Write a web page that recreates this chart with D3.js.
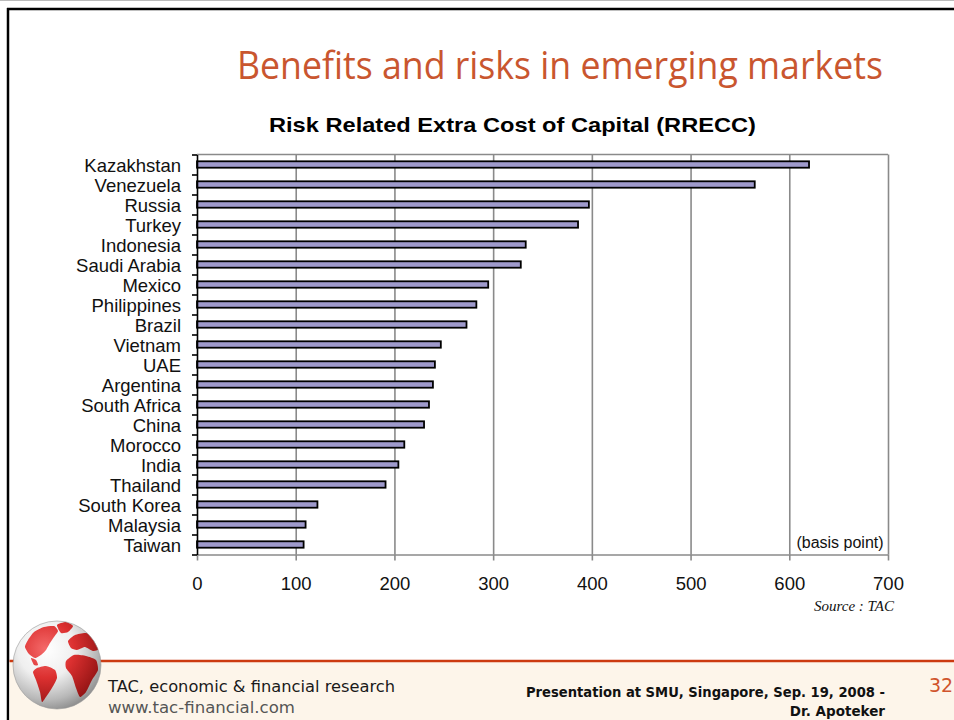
<!DOCTYPE html>
<html>
<head>
<meta charset="utf-8">
<script src="https://cdn.jsdelivr.net/npm/d3@7/dist/d3.min.js"></script>
<style>
  html, body { margin: 0; padding: 0; background: #fff; }
  svg { display: block; }
</style>
</head>
<body>
<svg id="slide" width="954" height="720"></svg>
<script>
// Risk Related Extra Cost of Capital, basis points, by country
const countries = ["Kazakhstan", "Venezuela", "Russia", "Turkey", "Indonesia", "Saudi Arabia",
  "Mexico", "Philippines", "Brazil", "Vietnam", "UAE", "Argentina", "South Africa", "China",
  "Morocco", "India", "Thailand", "South Korea", "Malaysia", "Taiwan"];
const rrecc = [620, 565, 397, 386, 333, 328, 295, 283, 273, 247, 241, 239, 235, 230,
  210, 204, 191, 122, 110, 108];
const xTicks = [0, 100, 200, 300, 400, 500, 600, 700];

const svg = d3.select("#slide");

// ---- slide frame ----
svg.append("rect").attr("x", 0).attr("y", 0).attr("width", 954).attr("height", 720).attr("fill", "#fff");
svg.append("line").attr("x1", 0).attr("x2", 954).attr("y1", 0.5).attr("y2", 0.5)
  .attr("stroke", "#bbb").attr("stroke-width", 1);
svg.append("line").attr("x1", 7).attr("x2", 954).attr("y1", 9).attr("y2", 9)
  .attr("stroke", "#000").attr("stroke-width", 2.5);
svg.append("line").attr("x1", 8).attr("x2", 8).attr("y1", 8).attr("y2", 720)
  .attr("stroke", "#000").attr("stroke-width", 2.5);

// ---- slide title ----
svg.append("text")
  .attr("x", 237).attr("y", 79)
  .attr("textLength", 646).attr("lengthAdjust", "spacingAndGlyphs")
  .style("font-family", "'Liberation Sans Narrow', 'Open Sans', sans-serif")
  .style("font-size", "38px")
  .attr("fill", "#c9562f")
  .text("Benefits and risks in emerging markets");

// ---- chart title ----
svg.append("text")
  .attr("x", 269).attr("y", 132)
  .attr("textLength", 487).attr("lengthAdjust", "spacingAndGlyphs")
  .style("font-family", "'Liberation Sans', Arial, sans-serif")
  .style("font-size", "21px").style("font-weight", "bold")
  .attr("fill", "#000")
  .text("Risk Related Extra Cost of Capital (RRECC)");

// ---- plot ----
const plot = { left: 197, right: 888, top: 154.5, bottom: 554.5 };
const x = d3.scaleLinear().domain([0, 700]).range([plot.left, plot.right]);
const y = d3.scaleBand().domain(countries).range([plot.top, plot.bottom])
  .paddingInner(0.68).paddingOuter(0.34);
const yEdges = d3.scaleLinear().domain([0, countries.length]).range([plot.top, plot.bottom]);

const g = svg.append("g");

// vertical gridlines, and the plot frame on top
g.append("g")
  .attr("transform", `translate(0,${plot.bottom})`)
  .call(d3.axisBottom(x).tickValues(xTicks.slice(1)).tickSize(-(plot.bottom - plot.top)).tickFormat(""))
  .call(a => a.select(".domain").remove())
  .call(a => a.selectAll("line").attr("stroke", "#8a8a8a").attr("stroke-width", 1.6));
g.append("line")
  .attr("x1", plot.left).attr("x2", plot.right).attr("y1", plot.top).attr("y2", plot.top)
  .attr("stroke", "#8a8a8a").attr("stroke-width", 1.6);

// x axis with labels
const xAxis = g.append("g")
  .attr("transform", `translate(0,${plot.bottom})`)
  .call(d3.axisBottom(x).tickValues(xTicks).tickSize(6).tickPadding(16).tickSizeOuter(0));
xAxis.select(".domain").attr("stroke", "#8a8a8a").attr("stroke-width", 1.6);
xAxis.selectAll(".tick line").attr("stroke", "#8a8a8a").attr("stroke-width", 1.6);
xAxis.selectAll("text")
  .style("font-family", "'Liberation Sans', Arial, sans-serif")
  .style("font-size", "18.5px").attr("fill", "#111");

// bars
g.append("g").selectAll("rect")
  .data(countries.map((c, i) => ({ c, v: rrecc[i] })))
  .join("rect")
  .attr("x", x(0))
  .attr("y", d => y(d.c))
  .attr("width", d => x(d.v) - x(0))
  .attr("height", y.bandwidth())
  .attr("fill", "#9f9acc")
  .attr("stroke", "#000")
  .attr("stroke-width", 1.8);

// y axis: category boundary ticks and the axis line
g.append("g")
  .attr("transform", `translate(${plot.left},0)`)
  .call(d3.axisLeft(yEdges).ticks(countries.length).tickSize(5).tickFormat("").tickSizeOuter(0))
  .call(a => a.selectAll("line, path").attr("stroke", "#000").attr("stroke-width", 1.6));

// category labels
g.append("g")
  .attr("transform", `translate(${plot.left},1.5)`)
  .call(d3.axisLeft(y).tickSize(0).tickPadding(16))
  .call(a => a.select(".domain").remove())
  .call(a => a.selectAll("text")
    .style("font-family", "'Liberation Sans', Arial, sans-serif")
    .style("font-size", "18.5px").attr("fill", "#111"));

// unit note and source
svg.append("text")
  .attr("x", 840).attr("y", 548).attr("text-anchor", "middle")
  .style("font-family", "'Liberation Sans', Arial, sans-serif")
  .style("font-size", "16px").attr("fill", "#111")
  .text("(basis point)");
svg.append("text")
  .attr("x", 894).attr("y", 611).attr("text-anchor", "end")
  .style("font-family", "'Liberation Serif', 'Times New Roman', serif")
  .style("font-size", "15px").style("font-style", "italic").attr("fill", "#111")
  .text("Source : TAC");

// ---- footer ----
svg.append("rect").attr("x", 9.5).attr("y", 662).attr("width", 945).attr("height", 58).attr("fill", "#fdf5ea");
svg.append("line").attr("x1", 9.5).attr("x2", 954).attr("y1", 661).attr("y2", 661)
  .attr("stroke", "#cc3a10").attr("stroke-width", 2.5);

svg.append("text")
  .attr("x", 108).attr("y", 692)
  .attr("textLength", 287).attr("lengthAdjust", "spacingAndGlyphs")
  .style("font-family", "'DejaVu Sans', Verdana, sans-serif")
  .style("font-size", "16px").attr("fill", "#1a1a1a")
  .text("TAC, economic & financial research");
svg.append("text")
  .attr("x", 108).attr("y", 713)
  .attr("textLength", 187).attr("lengthAdjust", "spacingAndGlyphs")
  .style("font-family", "'DejaVu Sans', Verdana, sans-serif")
  .style("font-size", "15.5px").attr("fill", "#555")
  .text("www.tac-financial.com");
svg.append("text")
  .attr("x", 885).attr("y", 697).attr("text-anchor", "end")
  .attr("textLength", 359).attr("lengthAdjust", "spacingAndGlyphs")
  .style("font-family", "'DejaVu Sans', Verdana, sans-serif")
  .style("font-size", "13.5px").style("font-weight", "bold").attr("fill", "#111")
  .text("Presentation at SMU, Singapore, Sep. 19, 2008 -");
svg.append("text")
  .attr("x", 885).attr("y", 716).attr("text-anchor", "end")
  .style("font-family", "'DejaVu Sans', Verdana, sans-serif")
  .style("font-size", "13.5px").style("font-weight", "bold").attr("fill", "#111")
  .text("Dr. Apoteker");
svg.append("text")
  .attr("x", 929).attr("y", 692)
  .style("font-family", "'DejaVu Sans', Verdana, sans-serif")
  .style("font-size", "19px").attr("fill", "#d0542c")
  .text("32");

// ---- globe logo ----
const gc = { x: 57, y: 665, r: 44 };
const defs = svg.append("defs");
const sea = defs.append("radialGradient").attr("id", "sea")
  .attr("cx", "38%").attr("cy", "32%").attr("r", "72%");
sea.append("stop").attr("offset", "0%").attr("stop-color", "#ffffff");
sea.append("stop").attr("offset", "45%").attr("stop-color", "#efefef");
sea.append("stop").attr("offset", "80%").attr("stop-color", "#b8b8b8");
sea.append("stop").attr("offset", "100%").attr("stop-color", "#8c8c8c");
const land = defs.append("radialGradient").attr("id", "land")
  .attr("gradientUnits", "userSpaceOnUse")
  .attr("cx", gc.x - 12).attr("cy", gc.y - 16).attr("r", 64);
land.append("stop").attr("offset", "0%").attr("stop-color", "#f46a6a");
land.append("stop").attr("offset", "45%").attr("stop-color", "#dc3030");
land.append("stop").attr("offset", "100%").attr("stop-color", "#8a1010");
defs.append("clipPath").attr("id", "globeClip")
  .append("circle").attr("cx", gc.x).attr("cy", gc.y).attr("r", gc.r);

const globe = svg.append("g");
globe.append("circle").attr("cx", gc.x).attr("cy", gc.y).attr("r", gc.r).attr("fill", "url(#sea)");
const landG = globe.append("g").attr("clip-path", "url(#globeClip)");
const blob = d3.line().curve(d3.curveCardinalClosed.tension(0.4));
const shapes = [
  // North America
  [[28, 640], [34, 632], [44, 627], [54, 626], [58, 631], [54, 637], [50, 643], [46, 650], [41, 655], [35, 658], [29, 654], [25, 647]],
  // Greenland
  [[57, 625], [66, 622], [73, 626], [68, 632], [61, 633]],
  // Europe
  [[68, 641], [75, 635], [86, 633], [97, 638], [101, 648], [93, 651], [85, 647], [77, 650], [71, 648]],
  // Africa
  [[66, 661], [74, 655], [86, 656], [96, 660], [98, 670], [92, 680], [86, 692], [80, 697], [76, 688], [72, 676], [66, 668]],
  // South America
  [[37, 668], [46, 666], [55, 670], [57, 678], [52, 688], [46, 697], [42, 702], [40, 692], [36, 680], [33, 672]],
  // Central America
  [[31, 658], [36, 660], [38, 665], [34, 665]]
];
landG.selectAll("path").data(shapes).join("path")
  .attr("d", d => blob(d))
  .attr("fill", "url(#land)");
globe.append("circle").attr("cx", gc.x).attr("cy", gc.y).attr("r", gc.r)
  .attr("fill", "none").attr("stroke", "#999").attr("stroke-width", 0.6);
</script>
</body>
</html>
